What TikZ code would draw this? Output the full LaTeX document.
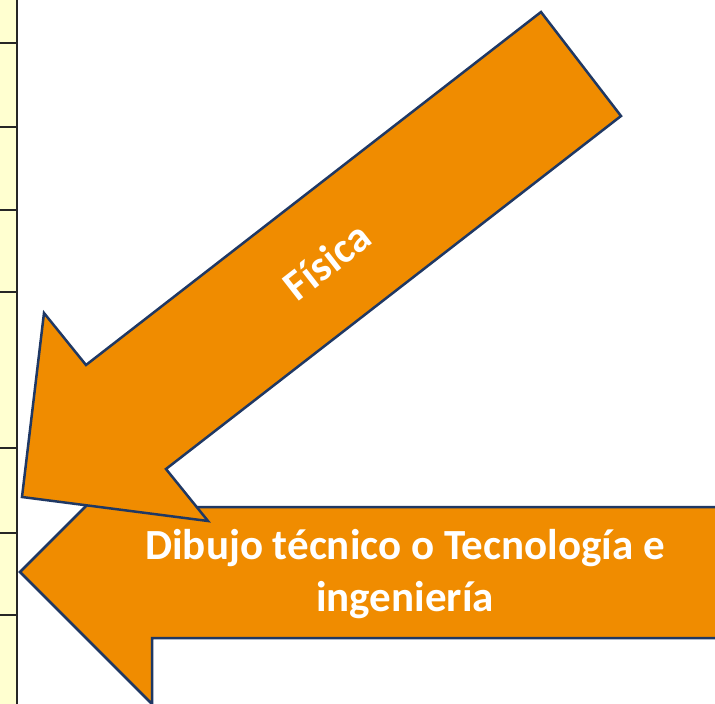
\documentclass[tikz,border=0pt]{standalone}
\usepackage{fontspec}
\setmainfont{Carlito}
\usepackage{tikz}
\definecolor{arroworange}{RGB}{240,140,0}
\definecolor{arrowedge}{RGB}{31,56,100}
\definecolor{tablecell}{RGB}{255,255,208}
\tikzstyle{bigarrow}=[fill=arroworange,draw=arrowedge,line width=2.5pt,line join=miter]
\tikzstyle{arrowtext}=[text=white,font=\bfseries\fontsize{43}{52}\selectfont,align=center,inner sep=0pt]
\tikzstyle{tablerule}=[draw=black!85,line width=2pt]

\begin{document}
\begin{tikzpicture}[x=1pt, y=-1pt]
	\clip (0,0) rectangle (715,704);
	\fill[white] (0,0) rectangle (715,704);
	% table edge on the left
	\fill[tablecell] (0,0) rectangle (17,704);
	\draw[tablerule] (17,0) -- (17,704);
	\foreach \y in {43,127,210,292,448,533,615}
		\draw[tablerule] (0,\y) -- (17,\y);
	% lower arrow
	\draw[bigarrow]
		(20,572) -- (152,440) -- (152,507) -- (730,507)
		-- (730,638) -- (152,638) -- (152,704) -- cycle;
	\node[arrowtext] (dibujo) at (405,574)
		{Dibujo técnico o Tecnología e\\ingeniería};
	% upper arrow
	\draw[bigarrow]
		(22,497) -- (44,313) -- (86,365) -- (541,12)
		-- (621,116) -- (166,469) -- (208,521) -- cycle;
	\node[arrowtext,rotate=38] (fisica) at (327,261) {Física};
\end{tikzpicture}
\end{document}
